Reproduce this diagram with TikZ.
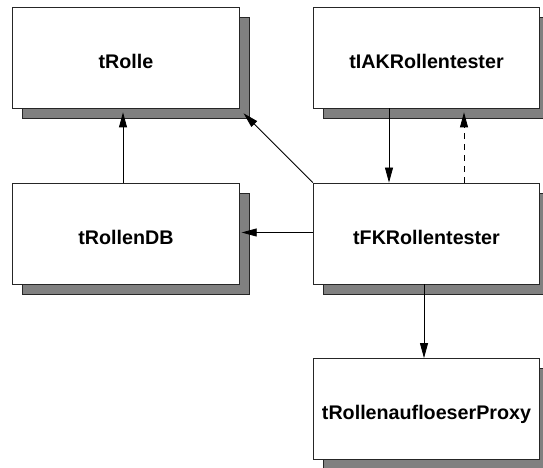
\documentclass[tikz,border=0pt]{standalone}
\usepackage{fontspec}
\setmainfont{Liberation Sans}
\usetikzlibrary{arrows.meta,shadows,calc}
\begin{document}
\begin{tikzpicture}[x=1pt,y=1pt,
  box/.style={draw=black!85, line width=0.8pt, fill=white, minimum width=226.5pt, minimum height=101pt, inner sep=0pt,
    text height=21.4pt, text depth=0pt,
    font=\fontsize{19.7}{23}\selectfont\bfseries,
    general shadow={fill=black!50, draw=black!85, line width=0.8pt, shadow xshift=10pt, shadow yshift=-10pt}},
  arr/.style={line width=0.8pt, -{Triangle[length=15pt,width=8pt]}}]
\useasboundingbox (0,0) rectangle (543,468);
\node[box] (rolle) at (126,410.5) {tRolle};
\node[box] (iak) at (426.5,410.5) {tIAKRollentester};
\node[box] (db) at (126,234.5) {tRollenDB};
\node[box] (fk) at (426.5,234.5) {tFKRollentester};
\node[box] (proxy) at (426.5,59) {tRollenaufloeserProxy};
\draw[arr] ($(db.north)+(-3,0)$) -- ($(rolle.south)+(-3,-4)$);
\draw[arr] (fk.north west) -- ($(rolle.south east)+(4,-5)$);
\draw[arr] ($(iak.south)+(-37.5,0)$) -- ($(fk.north)+(-37.5,0)$);
\draw[arr, dashed, dash pattern=on 6pt off 5pt] ($(fk.north)+(37.5,0)$) -- ($(iak.south)+(37.5,-4)$);
\draw[arr] ($(fk.west)+(0,1)$) -- ($(db.east)+(2,1)$);
\draw[arr] ($(fk.south)+(-2.5,0)$) -- ($(proxy.north)+(-2.5,0)$);
\end{tikzpicture}
\end{document}
